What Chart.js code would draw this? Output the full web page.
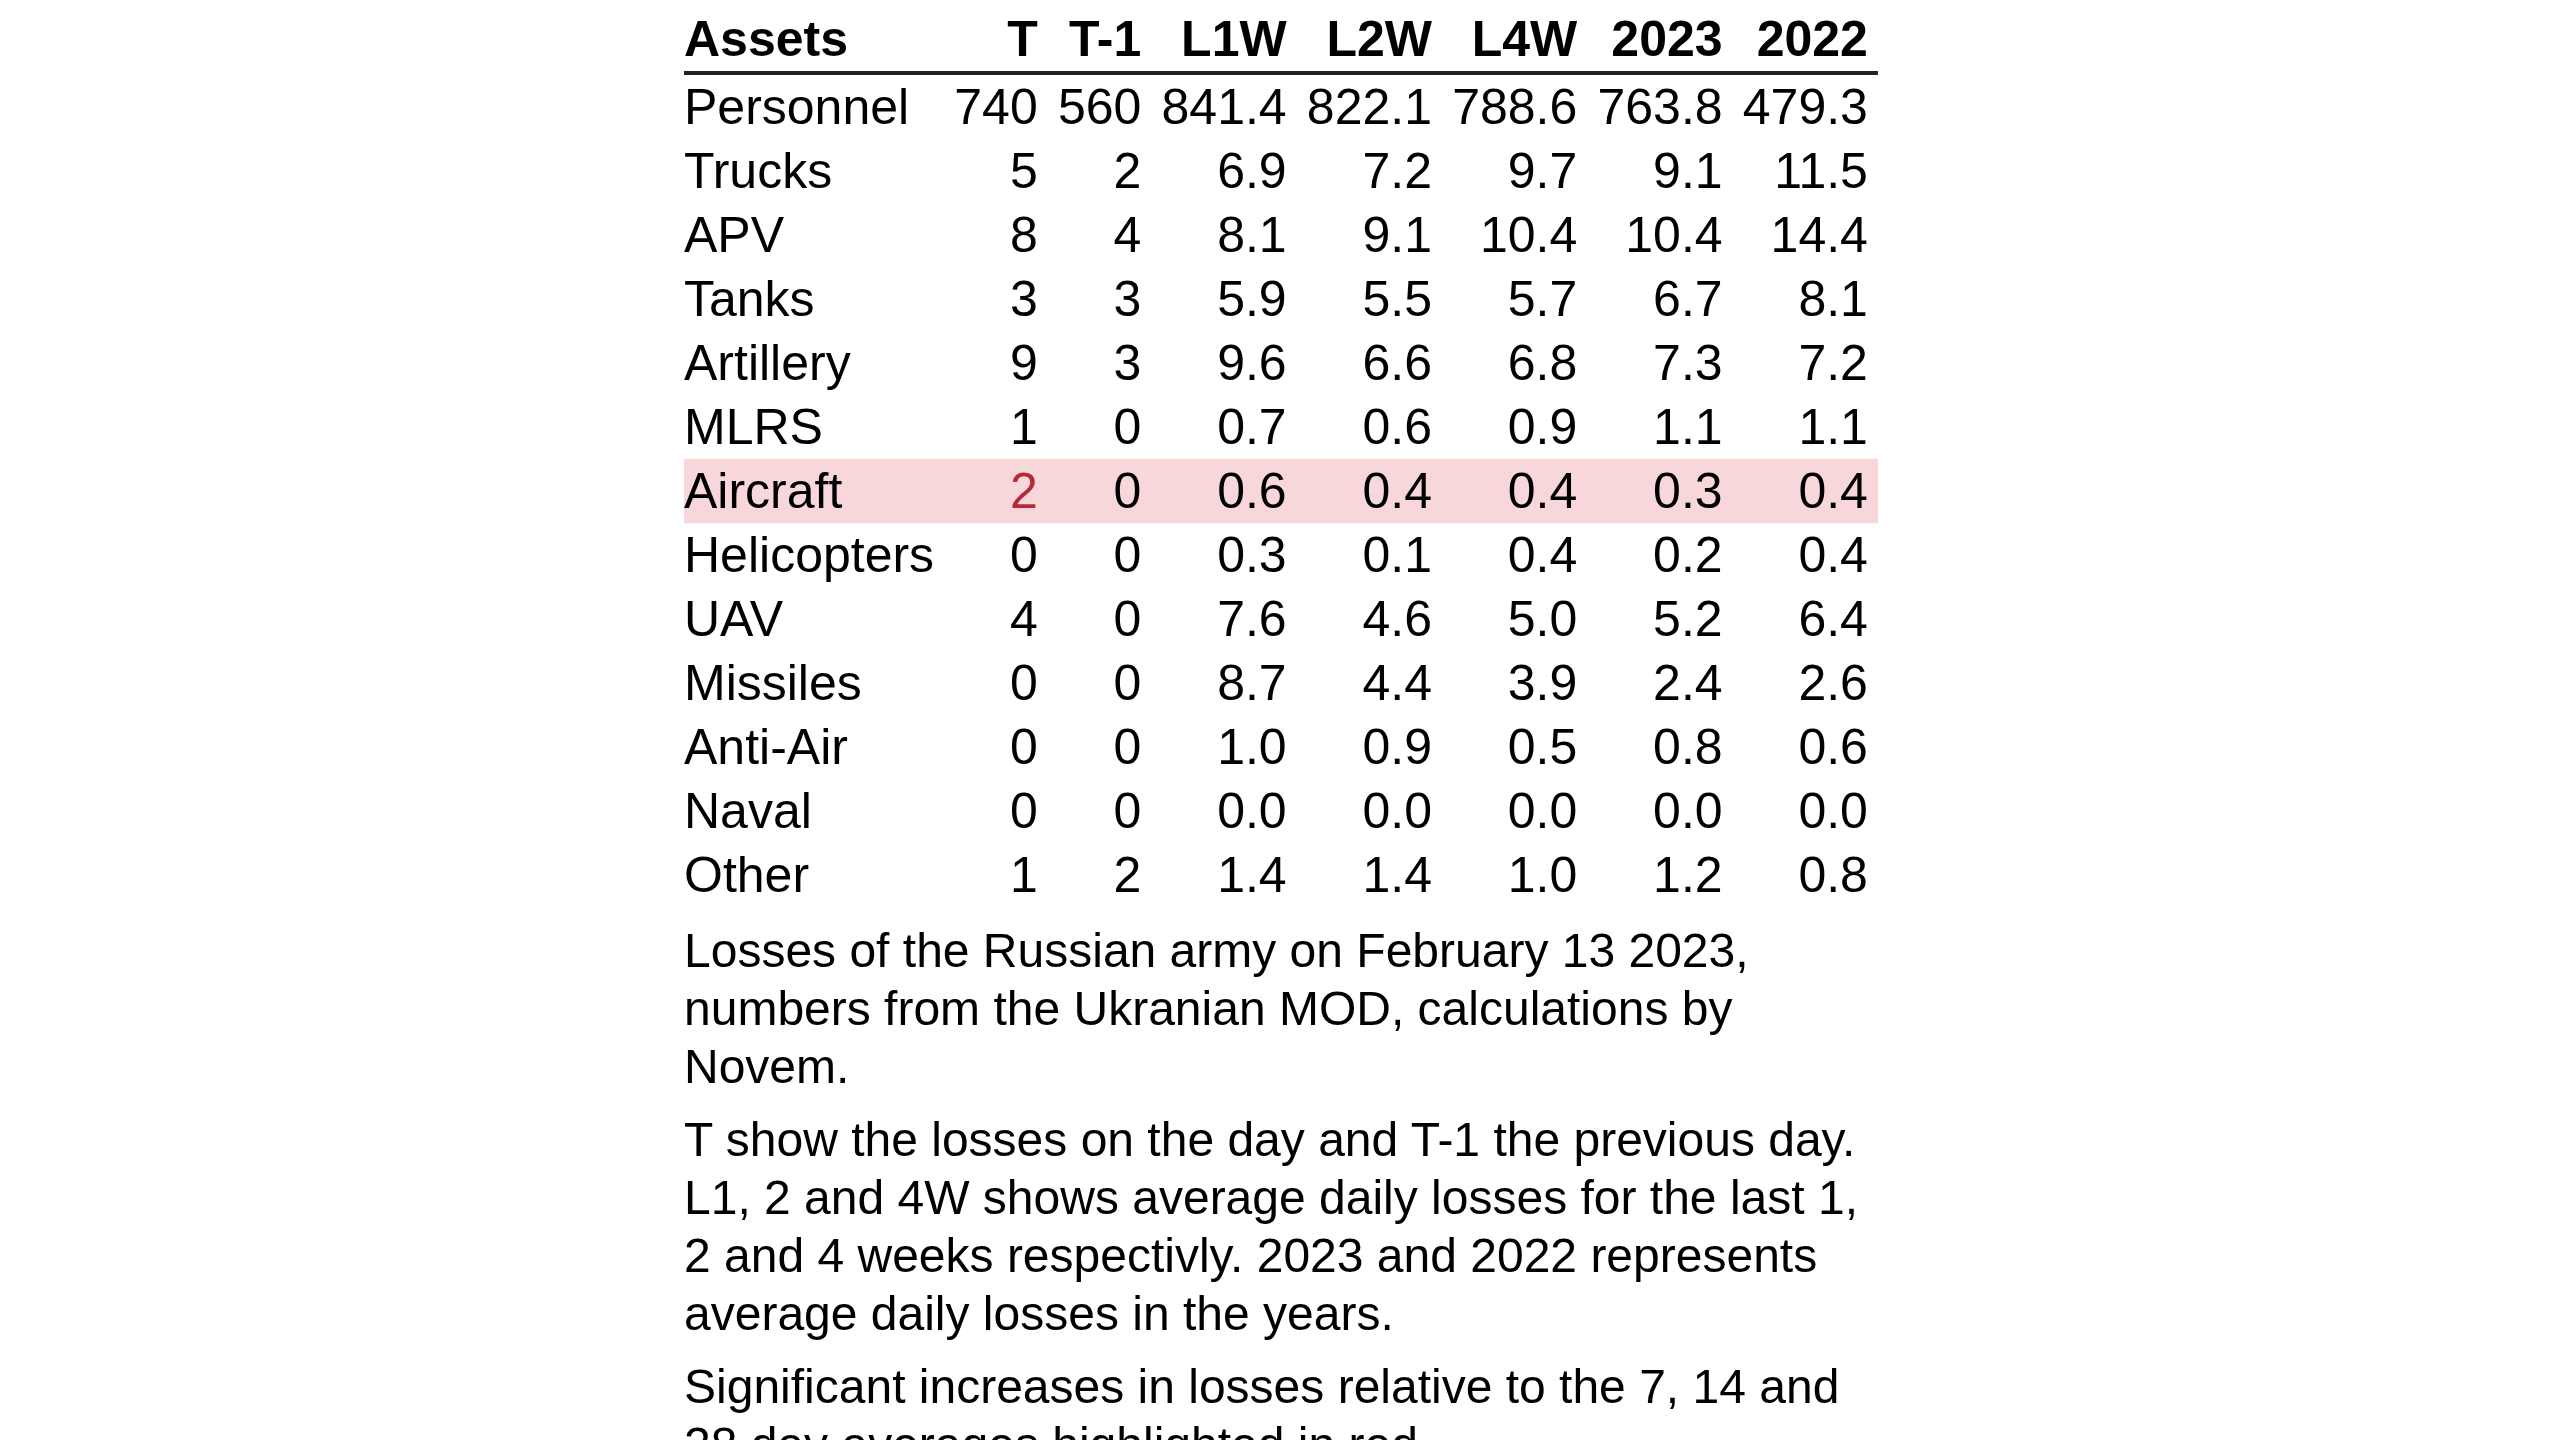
<!DOCTYPE html>
<html>
<head>
<meta charset="utf-8">
<title>Losses of the Russian army</title>
<script src="https://cdn.jsdelivr.net/npm/chart.js@4/dist/chart.umd.min.js"></script>
<style>
  html, body { margin: 0; padding: 0; background: #ffffff; }
  #wrap { position: relative; width: 2560px; height: 1440px; overflow: hidden; background: #ffffff; }
  #chart { position: absolute; left: 0; top: 0; }
  .cap { position: absolute; left: 684px; top: 922px; width: 1194px;
         font-family: "Liberation Sans", Arial, sans-serif; font-size: 48px; line-height: 58px;
         color: #000000; white-space: nowrap; }
  .cap p { margin: 0 0 15px 0; }
</style>
</head>
<body>
<div id="wrap">
  <canvas id="chart" width="2560" height="1440"></canvas>
  <div class="cap">
    <p>Losses of the Russian army on February 13 2023,<br>numbers from the Ukranian MOD, calculations by<br>Novem.</p>
    <p>T show the losses on the day and T-1 the previous day.<br>L1, 2 and 4W shows average daily losses for the last 1,<br>2 and 4 weeks respectivly. 2023 and 2022 represents<br>average daily losses in the years.</p>
    <p>Significant increases in losses relative to the 7, 14 and<br>28 day averages highlighted in red.</p>
  </div>
</div>
<script>
// ---- data ----
const headerLabel = 'Assets';
const assets = ['Personnel', 'Trucks', 'APV', 'Tanks', 'Artillery', 'MLRS', 'Aircraft',
                'Helicopters', 'UAV', 'Missiles', 'Anti-Air', 'Naval', 'Other'];
const columns = ['T', 'T-1', 'L1W', 'L2W', 'L4W', '2023', '2022'];
const colT    = [740, 5, 8, 3, 9, 1, 2, 0, 4, 0, 0, 0, 1];
const colT1   = [560, 2, 4, 3, 3, 0, 0, 0, 0, 0, 0, 0, 2];
const colL1W  = [841.4, 6.9, 8.1, 5.9, 9.6, 0.7, 0.6, 0.3, 7.6, 8.7, 1.0, 0.0, 1.4];
const colL2W  = [822.1, 7.2, 9.1, 5.5, 6.6, 0.6, 0.4, 0.1, 4.6, 4.4, 0.9, 0.0, 1.4];
const colL4W  = [788.6, 9.7, 10.4, 5.7, 6.8, 0.9, 0.4, 0.4, 5.0, 3.9, 0.5, 0.0, 1.0];
const col2023 = [763.8, 9.1, 10.4, 6.7, 7.3, 1.1, 0.3, 0.2, 5.2, 2.4, 0.8, 0.0, 1.2];
const col2022 = [479.3, 11.5, 14.4, 8.1, 7.2, 1.1, 0.4, 0.4, 6.4, 2.6, 0.6, 0.0, 0.8];
const decimals = [0, 0, 1, 1, 1, 1, 1];
const highlightRows = ['Aircraft'];
const highlightCells = [['Aircraft', 'T']];

// ---- build ----
const columnValues = [colT, colT1, colL1W, colL2W, colL4W, col2023, col2022];
const rowLabels = [headerLabel].concat(assets);
const FONT = '"Liberation Sans", Arial, sans-serif';
const BODY_FONT = '50px ' + FONT;
const HEAD_FONT = 'bold 50px ' + FONT;
const RED = '#b42a3a';
const PINK = '#f8d7da';

const tablePlugin = {
  id: 'tableText',
  afterDatasetsDraw(chart) {
    const ctx = chart.ctx;
    const area = chart.chartArea;
    const y = chart.scales.y;
    // measure column content widths
    const widths = [];
    ctx.save();
    ctx.font = HEAD_FONT;
    let w0 = ctx.measureText(headerLabel).width;
    ctx.font = BODY_FONT;
    assets.forEach(a => { w0 = Math.max(w0, ctx.measureText(a).width); });
    widths.push(w0);
    columns.forEach((c, ci) => {
      ctx.font = HEAD_FONT;
      let w = ctx.measureText(c).width;
      ctx.font = BODY_FONT;
      columnValues[ci].forEach(v => { w = Math.max(w, ctx.measureText(v.toFixed(decimals[ci])).width); });
      widths.push(w);
    });
    const sumW = widths.reduce((a, b) => a + b, 0);
    const nPads = 1 + 2 * columns.length;
    const pad = (area.right - area.left - sumW) / nPads;
    // right edges of numeric text
    const rights = [];
    let cursor = area.left + widths[0] + pad;
    for (let i = 0; i < columns.length; i++) {
      cursor += pad + widths[i + 1];
      rights.push(cursor);
      cursor += pad;
    }
    // header line
    const lineY = (y.getPixelForValue(0) + y.getPixelForValue(1)) / 2 - 2;
    ctx.strokeStyle = '#222222';
    ctx.lineWidth = 4;
    ctx.beginPath();
    ctx.moveTo(area.left, lineY);
    ctx.lineTo(area.right, lineY);
    ctx.stroke();
    // header
    ctx.fillStyle = '#000000';
    ctx.textBaseline = 'alphabetic';
    ctx.font = HEAD_FONT;
    const hy = y.getPixelForValue(0) + 13;
    ctx.textAlign = 'left';
    ctx.fillText(headerLabel, area.left, hy);
    ctx.textAlign = 'right';
    columns.forEach((c, i) => ctx.fillText(c, rights[i], hy));
    // body
    ctx.font = BODY_FONT;
    assets.forEach((a, ri) => {
      const by = y.getPixelForValue(ri + 1) + 16.5;
      ctx.fillStyle = '#000000';
      ctx.textAlign = 'left';
      ctx.fillText(a, area.left, by);
      ctx.textAlign = 'right';
      columns.forEach((c, ci) => {
        const red = highlightCells.some(h => h[0] === a && h[1] === c);
        ctx.fillStyle = red ? RED : '#000000';
        ctx.fillText(columnValues[ci][ri].toFixed(decimals[ci]), rights[ci], by);
      });
    });
    ctx.restore();
  }
};

const rowPitch = 64;
const topPad = 11;
new Chart(document.getElementById('chart'), {
  type: 'bar',
  data: {
    labels: rowLabels,
    datasets: [{
      label: 'highlight',
      data: rowLabels.map(l => highlightRows.includes(l) ? [0, 1] : null),
      backgroundColor: PINK,
      borderWidth: 0,
      barPercentage: 1.0,
      categoryPercentage: 1.0
    }]
  },
  options: {
    indexAxis: 'y',
    responsive: false,
    devicePixelRatio: 1,
    animation: false,
    layout: { padding: { left: 684, right: 682, top: topPad,
                         bottom: 1440 - topPad - rowPitch * (assets.length + 1) } },
    plugins: { legend: { display: false }, tooltip: { enabled: false }, title: { display: false } },
    scales: {
      x: { type: 'linear', min: 0, max: 1, display: false },
      y: { type: 'category', offset: true, display: false }
    }
  },
  plugins: [tablePlugin]
});
</script>
</body>
</html>
